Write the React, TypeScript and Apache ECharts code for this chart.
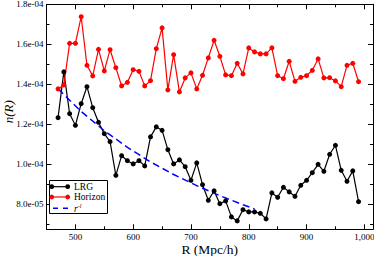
import React, { useEffect, useRef } from "react";
import * as echarts from "echarts";

// ---- data ----
const radii = [
  470, 480, 490, 500, 510, 520, 530, 540, 550, 560, 570, 580, 590, 600, 610, 620, 630, 640,
  650, 660, 670, 680, 690, 700, 710, 720, 730, 740, 750, 760, 770, 780, 790, 800, 810, 820,
  830, 840, 850, 860, 870, 880, 890, 900, 910, 920, 930, 940, 950, 960, 970, 980, 990,
];

const lrgValues = [
  1.233e-4, 1.462e-4, 1.253e-4, 1.195e-4, 1.303e-4, 1.388e-4, 1.283e-4, 1.21e-4, 1.153e-4,
  1.113e-4, 0.945e-4, 1.043e-4, 1.018e-4, 1.002e-4, 1.018e-4, 0.992e-4, 1.137e-4, 1.187e-4,
  1.17e-4, 1.073e-4, 1.002e-4, 1.022e-4, 0.988e-4, 0.92e-4, 1.007e-4, 0.898e-4, 0.82e-4,
  0.867e-4, 0.803e-4, 0.817e-4, 0.737e-4, 0.717e-4, 0.773e-4, 0.762e-4, 0.762e-4, 0.755e-4,
  0.727e-4, 0.857e-4, 0.835e-4, 0.885e-4, 0.862e-4, 0.84e-4, 0.895e-4, 0.92e-4, 0.958e-4,
  1.0e-4, 0.965e-4, 1.05e-4, 1.095e-4, 0.97e-4, 0.915e-4, 0.967e-4, 0.813e-4,
];

const horizonValues = [
  1.377e-4, 1.397e-4, 1.605e-4, 1.605e-4, 1.738e-4, 1.495e-4, 1.442e-4, 1.575e-4, 1.467e-4,
  1.573e-4, 1.483e-4, 1.392e-4, 1.41e-4, 1.473e-4, 1.465e-4, 1.392e-4, 1.418e-4, 1.578e-4,
  1.682e-4, 1.372e-4, 1.548e-4, 1.362e-4, 1.432e-4, 1.457e-4, 1.377e-4, 1.445e-4, 1.532e-4,
  1.62e-4, 1.54e-4, 1.447e-4, 1.443e-4, 1.505e-4, 1.452e-4, 1.582e-4, 1.562e-4, 1.552e-4,
  1.552e-4, 1.582e-4, 1.443e-4, 1.428e-4, 1.515e-4, 1.415e-4, 1.435e-4, 1.443e-4, 1.47e-4,
  1.527e-4, 1.432e-4, 1.433e-4, 1.417e-4, 1.388e-4, 1.495e-4, 1.505e-4, 1.413e-4,
];

const fitRadii = [470, 510, 550, 590, 630, 670, 710, 750, 790, 810];
const fitValues = [
  1.377e-4, 1.264e-4, 1.168e-4, 1.085e-4, 1.012e-4, 0.949e-4, 0.893e-4, 0.843e-4, 0.798e-4,
  0.777e-4,
];

const xMajorTicks = [500, 600, 700, 800, 900, 1000];
const xMinorTicks = [450, 550, 650, 750, 850, 950];
const yMajorTicks = [8e-5, 1.0e-4, 1.2e-4, 1.4e-4, 1.6e-4, 1.8e-4];
const yMinorTicks = [7e-5, 9e-5, 1.1e-4, 1.3e-4, 1.5e-4, 1.7e-4];

const X_MIN = 450;
const X_MAX = 1015;
const Y_MIN = 6.75e-5;
const Y_MAX = 1.8e-4;

const FONT = '"Liberation Serif", "DejaVu Serif", serif';

function fmtExp(v: number): string {
  const [m, e] = v.toExponential(1).split("e");
  const sign = e[0] === "-" ? "-" : "+";
  const d = e.replace(/^[+-]/, "").padStart(2, "0");
  return `${m}e${sign}${d}`;
}

function buildOption() {
  const line = { color: "#000", width: 1 };
  const xBase = { type: "value", min: X_MIN, max: X_MAX, splitLine: { show: false }, gridIndex: 0 };
  const yBase = { type: "value", min: Y_MIN, max: Y_MAX, splitLine: { show: false }, gridIndex: 0 };
  const major = (vals: number[]) => ({
    show: true,
    inside: true,
    length: 5,
    customValues: vals,
    lineStyle: { color: "#000", width: 1 },
  });
  const minor = (vals: number[]) => ({
    show: true,
    inside: true,
    length: 3,
    customValues: vals,
    lineStyle: { color: "#000", width: 1 },
  });

  const legendFont = `9.5px ${FONT}`;

  return {
    animation: false,
    backgroundColor: "#fff",
    grid: {
      left: 46.5,
      right: 1,
      top: 4.3,
      bottom: 26.7,
      containLabel: false,
      outerBoundsMode: "none",
    },
    xAxis: [
      {
        ...xBase,
        position: "bottom",
        axisLine: { show: true, onZero: false, lineStyle: line },
        axisTick: major(xMajorTicks),
        axisLabel: {
          show: true,
          customValues: xMajorTicks,
          fontFamily: FONT,
          fontSize: 9,
          color: "#000",
          margin: 3,
        },
        name: "R (Mpc/h)",
        nameLocation: "middle",
        nameGap: 13,
        nameMoveOverlap: false,
        nameTextStyle: { fontFamily: FONT, fontSize: 13.5, color: "#000" },
      },
      {
        ...xBase,
        position: "bottom",
        axisLine: { show: false },
        axisTick: minor(xMinorTicks),
        axisLabel: { show: false },
      },
      {
        ...xBase,
        position: "top",
        axisLine: { show: true, onZero: false, lineStyle: line },
        axisTick: major(xMajorTicks),
        axisLabel: { show: false },
      },
      {
        ...xBase,
        position: "top",
        axisLine: { show: false },
        axisTick: minor(xMinorTicks),
        axisLabel: { show: false },
      },
    ],
    yAxis: [
      {
        ...yBase,
        position: "left",
        axisLine: { show: true, onZero: false, lineStyle: line },
        axisTick: major(yMajorTicks),
        axisLabel: {
          show: true,
          customValues: yMajorTicks,
          formatter: (v: number) => fmtExp(v),
          fontFamily: FONT,
          fontSize: 9,
          color: "#000",
          margin: 3,
        },
        name: "n(R)",
        nameLocation: "middle",
        nameGap: 32,
        nameMoveOverlap: false,
        nameTextStyle: {
          fontFamily: FONT,
          fontSize: 13,
          fontStyle: "italic",
          color: "#000",
          padding: [0, 0, 0, 10],
        },
      },
      {
        ...yBase,
        position: "left",
        axisLine: { show: false },
        axisTick: minor(yMinorTicks),
        axisLabel: { show: false },
      },
      {
        ...yBase,
        position: "right",
        axisLine: { show: true, onZero: false, lineStyle: line },
        axisTick: major(yMajorTicks),
        axisLabel: { show: false },
      },
      {
        ...yBase,
        position: "right",
        axisLine: { show: false },
        axisTick: minor(yMinorTicks),
        axisLabel: { show: false },
      },
    ],
    series: [
      {
        name: "LRG",
        type: "line",
        xAxisIndex: 0,
        yAxisIndex: 0,
        data: radii.map((r, i) => [r, lrgValues[i]]),
        symbol: "circle",
        symbolSize: 5,
        showAllSymbol: true,
        itemStyle: { color: "#000" },
        lineStyle: { color: "#000", width: 1.2 },
      },
      {
        name: "Horizon",
        type: "line",
        xAxisIndex: 0,
        yAxisIndex: 0,
        data: radii.map((r, i) => [r, horizonValues[i]]),
        symbol: "circle",
        symbolSize: 5,
        showAllSymbol: true,
        itemStyle: { color: "#ff0000" },
        lineStyle: { color: "#ff0000", width: 1.2 },
      },
      {
        name: "r^-l",
        type: "line",
        xAxisIndex: 0,
        yAxisIndex: 0,
        data: fitRadii.map((r, i) => [r, fitValues[i]]),
        symbol: "none",
        lineStyle: { color: "#0000ff", width: 1.5, type: [7, 4] },
      },
    ],
    graphic: [
      {
        type: "group",
        z: 100,
        children: [
          {
            type: "rect",
            z: 100,
            shape: { x: 49.5, y: 180.5, width: 58, height: 33 },
            style: { fill: "#fff", stroke: "#000", lineWidth: 1 },
          },
          {
            type: "line",
            z: 101,
            shape: { x1: 51.7, y1: 186.7, x2: 67.7, y2: 186.7 },
            style: { stroke: "#000", lineWidth: 1.2 },
          },
          { type: "circle", z: 102, shape: { cx: 51.7, cy: 186.7, r: 2.4 }, style: { fill: "#000" } },
          { type: "circle", z: 102, shape: { cx: 67.7, cy: 186.7, r: 2.4 }, style: { fill: "#000" } },
          {
            type: "text",
            z: 102,
            style: { text: "LRG", x: 74, y: 187, font: legendFont, fill: "#000", verticalAlign: "middle" },
          },
          {
            type: "line",
            z: 101,
            shape: { x1: 51.7, y1: 197, x2: 67.7, y2: 197 },
            style: { stroke: "#ff0000", lineWidth: 1.2 },
          },
          { type: "circle", z: 102, shape: { cx: 51.7, cy: 197, r: 2.4 }, style: { fill: "#ff0000" } },
          { type: "circle", z: 102, shape: { cx: 67.7, cy: 197, r: 2.4 }, style: { fill: "#ff0000" } },
          {
            type: "text",
            z: 102,
            style: { text: "Horizon", x: 74, y: 197.3, font: legendFont, fill: "#000", verticalAlign: "middle" },
          },
          {
            type: "line",
            z: 101,
            shape: { x1: 53, y1: 208.3, x2: 68, y2: 208.3 },
            style: { stroke: "#0000ff", lineWidth: 1.5, lineDash: [5, 5] },
          },
          {
            type: "text",
            z: 102,
            style: {
              text: "{i|r}{s|-l}",
              x: 74,
              y: 209,
              verticalAlign: "middle",
              fill: "#000",
              rich: {
                i: { fontFamily: FONT, fontSize: 9.5, fontStyle: "italic", fill: "#000" },
                s: { fontFamily: FONT, fontSize: 6, fontStyle: "italic", fill: "#000", padding: [0, 0, 6, 0] },
              },
            },
          },
        ],
      },
    ],
  };
}

export default function App() {
  const ref = useRef<HTMLDivElement>(null);
  useEffect(() => {
    if (!ref.current) return;
    const chart = echarts.init(ref.current, undefined, { renderer: "svg" });
    chart.setOption(buildOption() as any);
    return () => chart.dispose();
  }, []);
  return (
    <div
      ref={ref}
      style={{ position: "fixed", left: 0, top: 0, width: 374, height: 256, background: "#fff" }}
    />
  );
}
